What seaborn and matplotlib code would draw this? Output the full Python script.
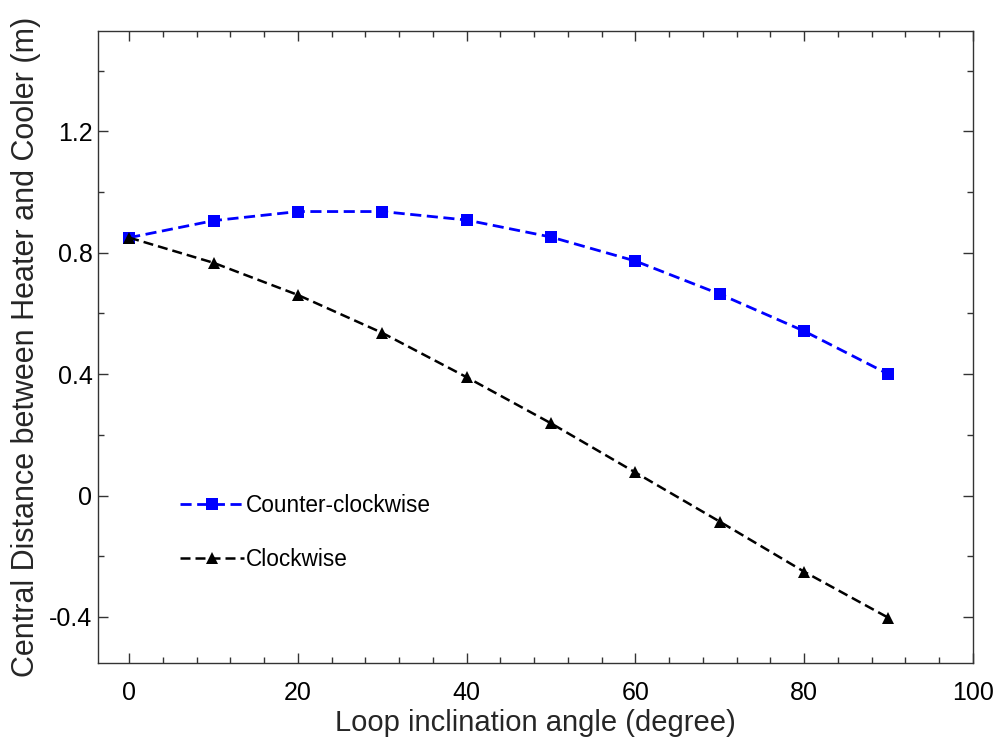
import numpy as np
import pandas as pd
import seaborn as sns
import matplotlib.pyplot as plt
from matplotlib.ticker import MultipleLocator

# data
angle = [0, 10, 20, 30, 40, 50, 60, 70, 80, 90]
ccw = [0.850, 0.906, 0.936, 0.936, 0.908, 0.852, 0.773, 0.664, 0.542, 0.400]
cw = [0.850, 0.767, 0.661, 0.536, 0.390, 0.238, 0.076, -0.086, -0.251, -0.403]

sns.set_style("ticks")
plt.rcParams['font.family'] = ['Liberation Sans', 'DejaVu Sans']

fig = plt.figure(figsize=(9.98, 7.46), dpi=100)
ax = fig.add_axes([0.0982, 0.1113, 0.8765, 0.8471])

df = pd.DataFrame({'angle': angle, 'Counter-clockwise': ccw, 'Clockwise': cw})

sns.lineplot(data=df, x='angle', y='Counter-clockwise', ax=ax, color='#0000ff',
             marker='s', markersize=8, markeredgewidth=0, linewidth=2,
             label='Counter-clockwise')
sns.lineplot(data=df, x='angle', y='Clockwise', ax=ax, color='black',
             marker='^', markersize=9, markeredgewidth=0, linewidth=1.8,
             label='Clockwise')
for ln in ax.get_lines():
    ln.set_linestyle((0, (4, 2)))

ax.set_xlim(-3.7, 100)
ax.set_ylim(-0.552, 1.531)
ax.xaxis.set_major_locator(MultipleLocator(20))
ax.xaxis.set_minor_locator(MultipleLocator(4))
ax.yaxis.set_major_locator(MultipleLocator(0.4))
ax.yaxis.set_minor_locator(MultipleLocator(0.2))
ax.yaxis.set_major_formatter(plt.FuncFormatter(lambda v, p: '0' if abs(v) < 1e-9 else f'{v:.1f}'))

ax.tick_params(which='both', direction='in', top=True, right=True, width=1, colors='#333333')
ax.tick_params(which='major', length=7, labelsize=18, labelcolor='black')
ax.tick_params(which='minor', length=4)
ax.tick_params(axis='x', which='major', pad=13)
ax.tick_params(axis='y', which='major', pad=4)
for s in ax.spines.values():
    s.set_linewidth(1)
    s.set_color('#333333')

ax.set_xlabel('Loop inclination angle (degree)', fontsize=21, labelpad=3)
ax.set_ylabel('Central Distance between Heater and Cooler (m)', fontsize=22, labelpad=6)

leg = ax.legend(loc='upper left', bbox_to_anchor=(0.094, 0.267), frameon=False,
                fontsize=16.3, handlelength=2.8, handletextpad=0.1, labelspacing=1.35,
                borderpad=0, borderaxespad=0)
for t in leg.get_texts():
    t.set_color('black')

fig.savefig('out.png', dpi=100)
